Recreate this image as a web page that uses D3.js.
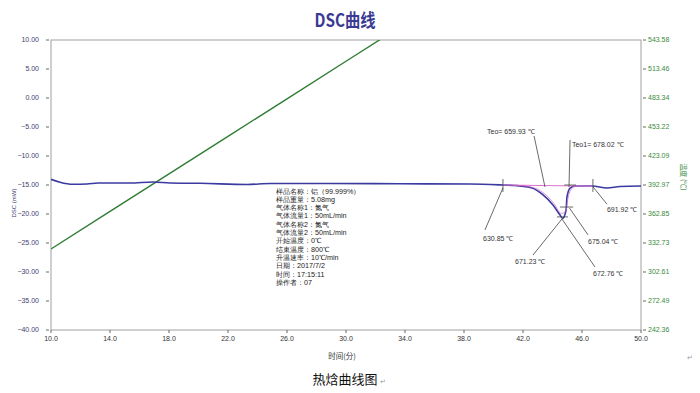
<!DOCTYPE html>
<html><head><meta charset="utf-8">
<script src="https://cdn.jsdelivr.net/npm/d3@7"></script>
<style>
html,body{margin:0;padding:0;background:#fff;}
svg{display:block;}
text{font-family:"Liberation Sans",Arial,sans-serif;}
</style></head>
<body><svg id="c" width="700" height="393"></svg>
<script>
// ---- data ----
const timeTicks = [10,14,18,22,26,30,34,38,42,46,50];
const dscTicks = [10,5,0,-5,-10,-15,-20,-25,-30,-35,-40];
const tempTickLabels = ["543.58","513.46","483.34","453.22","423.09","392.97","362.85","332.73","302.61","272.49","242.36"];

const dscTime  = [10.0,10.61,11.49,12.44,13.19,15.36,16.92,18.07,20.1,23.29,24.85,28.92,33.66,38.41,40.64,41.46,42.61,43.36,44.03,44.51,44.69,44.92,44.98,45.19,45.53,46.68,47.69,48.58,50.0];
const dscValue = [-14.02,-14.53,-14.88,-14.83,-14.66,-14.66,-14.48,-14.66,-14.71,-14.91,-14.74,-14.74,-14.79,-14.83,-15.0,-15.09,-15.52,-16.72,-18.45,-20.17,-20.74,-19.31,-17.07,-15.52,-15.17,-15.17,-15.52,-15.26,-15.17];

const tempTime  = [10,14,18,22,26,30,32.3];
const tempValue = [326.5,365.5,404.5,443.5,482.5,521.5,543.9];

const fitTime  = [41.5,42.7,43.45,44.1,44.6,44.9,45.05,45.3,45.6];
const fitValue = [-15.05,-15.45,-16.5,-18.2,-19.9,-19.5,-17.3,-15.6,-15.2];
const baseTime  = [40.64,46.74];
const baseValue = [-15.0,-15.2];

const infoLines = ["样品名称：铝（99.999%）","样品重量：5.08mg","气体名称1：氮气","气体流量1：50mL/min","气体名称2：氮气","气体流量2：50mL/min","开始温度：0℃","结束温度：800℃","升温速率：10℃/min","日期：2017/7/2","时间：17:15:11","操作者：07"];

// annotations in data units (time, DSC)
const annoLabels = [
  {text:"Teo= 659.93 ℃", t:39.56, v:-5.85},
  {text:"Teo1= 678.02 ℃", t:45.32, v:-8.1},
  {text:"630.85 ℃", t:39.29, v:-24.3},
  {text:"671.23 ℃", t:41.46, v:-28.2},
  {text:"672.76 ℃", t:46.75, v:-30.3},
  {text:"675.04 ℃", t:46.41, v:-24.8},
  {text:"691.92 ℃", t:47.69, v:-19.3}
];
const annoLines = [
  [[42.75,-6.55],[43.49,-15.34]],
  [[45.19,-7.24],[45.12,-15.34]],
  [[44.8,-15.0],[45.6,-15.0]],
  [[40.64,-13.97],[40.64,-16.2]],
  [[46.74,-13.97],[46.74,-16.2]],
  [[40.64,-15.5],[39.42,-22.76]],
  [[46.74,-15.3],[47.69,-18.3]],
  [[44.64,-20.86],[42.68,-27.07]],
  [[44.64,-20.86],[46.88,-29.14]],
  [[45.15,-18.97],[46.41,-23.62]],
  [[44.3,-20.5],[45.05,-20.5]],
  [[44.5,-18.8],[45.4,-18.8]]
];

// ---- layout ----
const L=51, R=641, T=40, B=330;
const svg = d3.select("#c");
const x = d3.scaleLinear().domain([10,50]).range([L,R]);
const y = d3.scaleLinear().domain([-40,10]).range([B,T]);
const y2 = d3.scaleLinear().domain([242.36,543.58]).range([B,T]);

svg.append("defs").append("clipPath").attr("id","clip")
  .append("rect").attr("x",L).attr("y",T).attr("width",R-L).attr("height",B-T);

// title
svg.append("text").attr("x",345).attr("y",27).attr("text-anchor","middle")
  .style("font-family","'Noto Sans CJK SC','DejaVu Sans',sans-serif")
  .style("font-size","18px").style("font-weight","bold").attr("fill","#3a3a92")
  .attr("transform","translate(345,0) scale(0.85,1) translate(-345,0)")
  .text("DSC曲线");

// frame
svg.append("rect").attr("x",L).attr("y",T).attr("width",R-L).attr("height",B-T)
  .attr("fill","none").attr("stroke","#a0a0a0").attr("stroke-width",1);

// left axis
const gl = svg.append("g");
dscTicks.forEach(d=>{
  gl.append("line").attr("x1",L-5).attr("x2",L-2).attr("y1",y(d)).attr("y2",y(d)).attr("stroke","#666");
  gl.append("text").attr("x",39).attr("y",y(d)).attr("dy","0.35em").attr("text-anchor","end")
    .style("font-size","7px").attr("fill","#3e3e70").text(d3.format(".2f")(d));
});
svg.append("text").attr("transform",`translate(16,${(T+B)/2+18}) rotate(-90)`).attr("text-anchor","middle")
  .style("font-size","6px").attr("fill","#3e3e70").text("DSC (mW)");

// right axis
const gr = svg.append("g");
const tempTickVals = tempTickLabels.map(Number);
tempTickVals.forEach((d,i)=>{
  gr.append("line").attr("x1",R+2).attr("x2",R+5).attr("y1",y2(d)).attr("y2",y2(d)).attr("stroke","#666");
  gr.append("text").attr("x",R+7).attr("y",y2(d)).attr("dy","0.35em")
    .style("font-size","7px").attr("fill","#3b8a3b").text(tempTickLabels[i]);
});
svg.append("text").attr("transform",`translate(681,${(T+B)/2-8}) rotate(90)`).attr("text-anchor","middle")
  .style("font-family","'Noto Sans CJK SC',sans-serif")
  .style("font-size","7px").attr("fill","#3b8a3b").text("温度 (℃)");

// bottom axis
const gb = svg.append("g");
timeTicks.forEach(d=>{
  gb.append("line").attr("x1",x(d)).attr("x2",x(d)).attr("y1",B).attr("y2",B+3).attr("stroke","#666");
  gb.append("text").attr("x",x(d)).attr("y",B+11).attr("text-anchor","middle")
    .style("font-size","7px").attr("fill","#333").text(d3.format(".1f")(d));
});
svg.append("text").attr("x",342).attr("y",359).attr("text-anchor","middle")
  .style("font-family","'Noto Sans CJK SC',sans-serif")
  .style("font-size","7.5px").attr("fill","#333").text("时间(分)");

// caption
svg.append("text").attr("x",345).attr("y",384).attr("text-anchor","middle")
  .style("font-family","'Noto Sans CJK SC',sans-serif")
  .style("font-size","13px").attr("fill","#111").text("热焓曲线图");
svg.append("text").attr("x",380).attr("y",384).style("font-size","7px").attr("fill","#999").text("↵");
svg.append("text").attr("x",687).attr("y",360).style("font-size","7px").attr("fill","#999").text("↵");

// series
const plot = svg.append("g").attr("clip-path","url(#clip)");
const tempLine = d3.line().x(d=>x(d[0])).y(d=>y2(d[1]));
const dscLine = d3.line().x(d=>x(d[0])).y(d=>y(d[1])).curve(d3.curveMonotoneX);
const straight = d3.line().x(d=>x(d[0])).y(d=>y(d[1]));

plot.append("path").datum(d3.zip(tempTime,tempValue)).attr("d",tempLine)
  .attr("fill","none").attr("stroke","#2f7d34").attr("stroke-width",1.4);
plot.append("path").datum(d3.zip(dscTime,dscValue)).attr("d",dscLine)
  .attr("fill","none").attr("stroke","#3a3aa0").attr("stroke-width",1.6);
plot.append("path").datum(d3.zip(baseTime,baseValue)).attr("d",straight)
  .attr("fill","none").attr("stroke","#e070d0").attr("stroke-width",1);
plot.append("path").datum(d3.zip(fitTime,fitValue)).attr("d",dscLine)
  .attr("fill","none").attr("stroke","#d060c8").attr("stroke-width",0.9).attr("opacity",0.8);

// annotations
const ga = svg.append("g");
annoLines.forEach(s=>{
  ga.append("path").datum(s).attr("d",straight).attr("fill","none")
    .attr("stroke","#444").attr("stroke-width",0.8);
});
annoLabels.forEach(a=>{
  ga.append("text").attr("x",x(a.t)).attr("y",y(a.v)).attr("dy","0.35em")
    .style("font-size","7px").attr("fill","#333").text(a.text);
});

// info block
const gi = svg.append("g").style("font-family","'Noto Sans CJK SC',sans-serif");
infoLines.forEach((s,i)=>{
  gi.append("text").attr("x",276).attr("y",191+i*8.3).attr("dy","0.35em")
    .style("font-size","7.2px").attr("fill","#222").text(s);
});
</script></body></html>
